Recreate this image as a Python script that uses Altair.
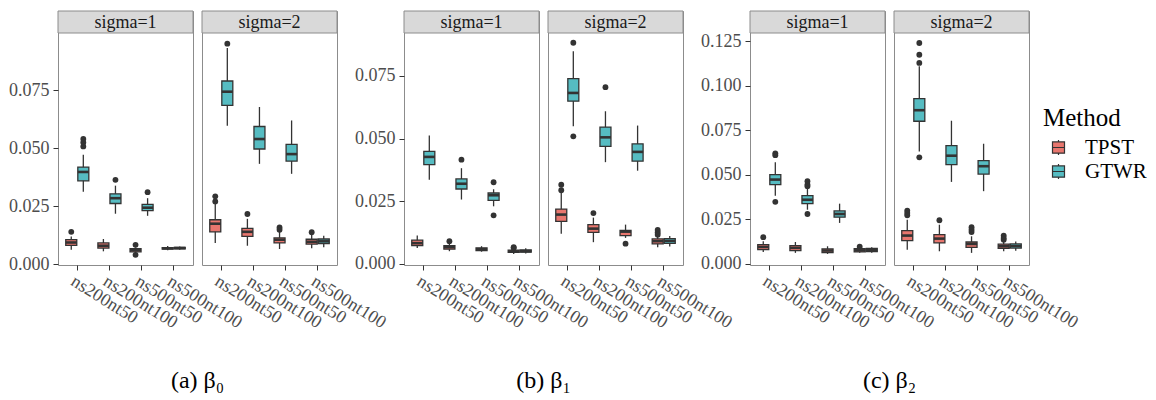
import altair as alt
import pandas as pd

CATS = ["ns200nt50", "ns200nt100", "ns500nt50", "ns500nt100"]
METHODS = ["TPST", "GTWR"]
COLORS = ["#E8766E", "#56BCC2"]
SIGMAS = ["sigma=1", "sigma=2"]
GROUPS = ["b0", "b1", "b2"]
CAPTIONS = ["(a) β₀", "(b) β₁", "(c) β₂"]

# (lower whisker, q1, median, q3, upper whisker) for each category
B0_S1_TPST = [(0.0062, 0.0081, 0.0093, 0.0105, 0.0119), (0.0055, 0.0069, 0.0079, 0.0091, 0.0108),
              (0.0048, 0.0053, 0.0060, 0.0066, 0.0072), (0.0060, 0.0065, 0.0068, 0.0071, 0.0078)]
B0_S1_GTWR = [(0.0312, 0.0359, 0.0397, 0.0418, 0.0471), (0.0217, 0.0261, 0.0284, 0.0303, 0.0338),
              (0.0208, 0.0230, 0.0243, 0.0257, 0.0284), (0.0062, 0.0066, 0.0069, 0.0072, 0.0076)]
B0_S2_TPST = [(0.0091, 0.0139, 0.0174, 0.0191, 0.0262), (0.0079, 0.0119, 0.0139, 0.0154, 0.0195),
              (0.0065, 0.0091, 0.0105, 0.0113, 0.0140), (0.0068, 0.0086, 0.0096, 0.0107, 0.0125)]
B0_S2_GTWR = [(0.0596, 0.0684, 0.0743, 0.0789, 0.0931), (0.0432, 0.0496, 0.0539, 0.0593, 0.0677),
              (0.0389, 0.0444, 0.0474, 0.0516, 0.0619), (0.0072, 0.0088, 0.0098, 0.0108, 0.0122)]

B1_S1_TPST = [(0.0064, 0.0073, 0.0083, 0.0095, 0.0114), (0.0051, 0.0059, 0.0067, 0.0073, 0.0084),
              (0.0049, 0.0053, 0.0059, 0.0064, 0.0071), (0.0040, 0.0046, 0.0050, 0.0055, 0.0062)]
B1_S1_GTWR = [(0.0336, 0.0396, 0.0427, 0.0449, 0.0512), (0.0257, 0.0299, 0.0320, 0.0339, 0.0382),
              (0.0230, 0.0254, 0.0274, 0.0283, 0.0298), (0.0042, 0.0047, 0.0051, 0.0056, 0.0063)]
B1_S2_TPST = [(0.0121, 0.0170, 0.0197, 0.0219, 0.0285), (0.0087, 0.0126, 0.0141, 0.0157, 0.0185),
              (0.0104, 0.0113, 0.0129, 0.0134, 0.0157), (0.0067, 0.0080, 0.0091, 0.0100, 0.0112)]
B1_S2_GTWR = [(0.0549, 0.0649, 0.0682, 0.0739, 0.0848), (0.0406, 0.0469, 0.0505, 0.0546, 0.0609),
              (0.0372, 0.0410, 0.0447, 0.0479, 0.0552), (0.0070, 0.0082, 0.0092, 0.0101, 0.0112)]

B2_S1_TPST = [(0.0067, 0.0080, 0.0095, 0.0108, 0.0127), (0.0062, 0.0075, 0.0090, 0.0103, 0.0123),
              (0.0056, 0.0063, 0.0075, 0.0084, 0.0099), (0.0062, 0.0068, 0.0076, 0.0085, 0.0092)]
B2_S1_GTWR = [(0.0383, 0.0445, 0.0473, 0.0501, 0.0570), (0.0304, 0.0338, 0.0360, 0.0383, 0.0426),
              (0.0230, 0.0262, 0.0280, 0.0297, 0.0338), (0.0063, 0.0069, 0.0078, 0.0087, 0.0093)]
B2_S2_TPST = [(0.0080, 0.0131, 0.0159, 0.0187, 0.0248), (0.0071, 0.0118, 0.0142, 0.0164, 0.0220),
              (0.0062, 0.0093, 0.0112, 0.0123, 0.0155), (0.0071, 0.0087, 0.0099, 0.0111, 0.0128)]
B2_S2_GTWR = [(0.0630, 0.0800, 0.0862, 0.0927, 0.1108), (0.0460, 0.0557, 0.0607, 0.0663, 0.0803),
              (0.0408, 0.0504, 0.0548, 0.0579, 0.0674), (0.0074, 0.0089, 0.0100, 0.0112, 0.0126)]

# outliers for each category
B0_S1_TPST_OUT = [[0.0139], [], [0.0083, 0.0040], []]
B0_S1_GTWR_OUT = [[0.0539, 0.0524, 0.0507], [0.0363], [0.0310], []]
B0_S2_TPST_OUT = [[0.0292, 0.0270], [0.0216], [0.0158, 0.0148], [0.0137]]
B0_S2_GTWR_OUT = [[0.0950], [], [], []]
B1_S1_TPST_OUT = [[], [0.0091], [], [0.0067, 0.0064]]
B1_S1_GTWR_OUT = [[], [0.0416], [0.0326, 0.0194], []]
B1_S2_TPST_OUT = [[0.0316, 0.0294], [0.0203], [0.0081], [0.0136, 0.0126, 0.0117]]
B1_S2_GTWR_OUT = [[0.0882, 0.0509], [0.0705], [], []]
B2_S1_TPST_OUT = [[0.0150], [], [], [0.0097]]
B2_S1_GTWR_OUT = [[0.0620, 0.0610, 0.0348], [0.0464, 0.0445, 0.0436, 0.0280], [], []]
B2_S2_TPST_OUT = [[0.0299, 0.0286, 0.0273], [0.0245], [0.0206, 0.0192, 0.0179], [0.0159, 0.0146, 0.0136]]
B2_S2_GTWR_OUT = [[0.1239, 0.1173, 0.1127, 0.0598], [], [], []]

Y_DOMAINS = [[-0.0004, 0.0996], [-0.0004, 0.0921], [-0.0006, 0.1295]]
Y_TICKS = [[0.0, 0.025, 0.05, 0.075], [0.0, 0.025, 0.05, 0.075],
           [0.0, 0.025, 0.05, 0.075, 0.1, 0.125]]

STATS = {
    ("b0", "sigma=1"): (B0_S1_TPST, B0_S1_GTWR, B0_S1_TPST_OUT, B0_S1_GTWR_OUT),
    ("b0", "sigma=2"): (B0_S2_TPST, B0_S2_GTWR, B0_S2_TPST_OUT, B0_S2_GTWR_OUT),
    ("b1", "sigma=1"): (B1_S1_TPST, B1_S1_GTWR, B1_S1_TPST_OUT, B1_S1_GTWR_OUT),
    ("b1", "sigma=2"): (B1_S2_TPST, B1_S2_GTWR, B1_S2_TPST_OUT, B1_S2_GTWR_OUT),
    ("b2", "sigma=1"): (B2_S1_TPST, B2_S1_GTWR, B2_S1_TPST_OUT, B2_S1_GTWR_OUT),
    ("b2", "sigma=2"): (B2_S2_TPST, B2_S2_GTWR, B2_S2_TPST_OUT, B2_S2_GTWR_OUT),
}

SERIF = "Liberation Serif"
DARK = "#333333"
BORDER = "#8C8C8C"
STRIP_FILL = "#D9D9D9"
W, H, STRIP = 135, 254, 22
SPACER = 49

BOX_PATH = "M-0.8,-0.75H0.8V0.75H-0.8Z M-0.8,0H0.8 M0,-0.75V-1 M0,0.75V1"


def tables(g, s):
    tp, gt, tpo, gto = STATS[(g, s)]
    rows, outs = [], []
    for m, stats, ol in (("TPST", tp, tpo), ("GTWR", gt, gto)):
        for c, st, o in zip(CATS, stats, ol):
            lo, q1, med, q3, hi = st
            rows.append(dict(category=c, method=m, low=lo, q1=q1, med=med, q3=q3, high=hi))
            for v in o:
                outs.append(dict(category=c, method=m, value=v))
    return pd.DataFrame(rows), pd.DataFrame(outs)


def panel(gi, si):
    g, s = GROUPS[gi], SIGMAS[si]
    bd, od = tables(g, s)
    yscale = alt.Scale(domain=Y_DOMAINS[gi], range=[H, STRIP], nice=False, zero=False)
    if si == 0:
        yaxis = alt.Axis(values=Y_TICKS[gi], format=".3f", title=None)
    else:
        yaxis = None
    xenc = alt.X("category:N", sort=CATS,
                 scale=alt.Scale(domain=CATS, paddingInner=0, paddingOuter=0.1),
                 axis=alt.Axis(title=None, labelAngle=32, labelAlign="left",
                               labelBaseline="top", labelPadding=2))
    xo = alt.XOffset("method:N", sort=METHODS,
                     scale=alt.Scale(domain=METHODS, paddingInner=0, paddingOuter=0.3333))

    def yy(field):
        return alt.Y(field, scale=yscale, axis=yaxis, title=None)

    legend = alt.Legend(
        title="Method", orient="none", legendX=985, legendY=95,
        titleFont=SERIF, titleFontSize=25, titleFontWeight="normal", titleColor="black",
        labelFont=SERIF, labelFontSize=21, labelColor="black",
        symbolType=BOX_PATH, symbolSize=225, symbolStrokeColor=DARK, symbolStrokeWidth=1.2,
        symbolOffset=5, labelOffset=16, rowPadding=2, titlePadding=6,
    )
    strip_df = pd.DataFrame({"label": [s]})
    strip_rect = alt.Chart(strip_df).mark_rect(fill=STRIP_FILL, stroke=BORDER, strokeWidth=1).encode(
        x=alt.value(0), x2=alt.value(W), y=alt.value(0), y2=alt.value(STRIP))
    strip_text = alt.Chart(strip_df).mark_text(font=SERIF, fontSize=18, color="#1A1A1A").encode(
        x=alt.value(W / 2), y=alt.value(STRIP / 2 + 1), text="label:N")
    rule = alt.Chart(bd).mark_rule(color=DARK, strokeWidth=1.3).encode(
        x=xenc, xOffset=xo, y=yy("low:Q"), y2="high:Q")
    bar = alt.Chart(bd).mark_bar(width=11, stroke=DARK, strokeWidth=1.3).encode(
        x=xenc, xOffset=xo, y=yy("q1:Q"), y2="q3:Q",
        fill=alt.Fill("method:N", sort=METHODS,
                      scale=alt.Scale(domain=METHODS, range=COLORS), legend=legend))
    med = alt.Chart(bd).mark_tick(color=DARK, thickness=2.6, size=11, opacity=1).encode(
        x=xenc, xOffset=xo, y=yy("med:Q"))
    outl = alt.Chart(od).mark_circle(color=DARK, size=34, opacity=1).encode(
        x=xenc, xOffset=xo, y=yy("value:Q"))
    ch = alt.layer(strip_rect, strip_text, rule, bar, med, outl).properties(width=W, height=H)
    if si == 1:
        ch = ch.properties(title=alt.TitleParams(
            CAPTIONS[gi], orient="bottom", anchor="start", frame="group", align="center",
            dx=-4.5, offset=37, font=SERIF, fontSize=24, fontWeight="normal", color="black"))
    return ch


def spacer():
    return alt.Chart(pd.DataFrame({"v": [0]})).mark_point(opacity=0).encode(
        x=alt.value(0), y=alt.value(0)).properties(
        width=SPACER, height=H, view=alt.ViewBackground(strokeOpacity=0))


chart = alt.hconcat(
    panel(0, 0), panel(0, 1), spacer(),
    panel(1, 0), panel(1, 1), spacer(),
    panel(2, 0), panel(2, 1),
    spacing=9, bounds="flush",
).properties(
    padding={"left": 0, "top": 0, "right": 0, "bottom": 0}
).configure_view(
    stroke=BORDER, strokeWidth=1
).configure_axis(
    domain=False, grid=False, ticks=True, tickColor=DARK, tickSize=5, tickWidth=1,
    labelFont=SERIF, labelFontSize=18, labelColor="#4D4D4D"
).configure_axisY(labelPadding=4)

chart.save("out.html", embed_options={"renderer": "svg", "actions": False})
